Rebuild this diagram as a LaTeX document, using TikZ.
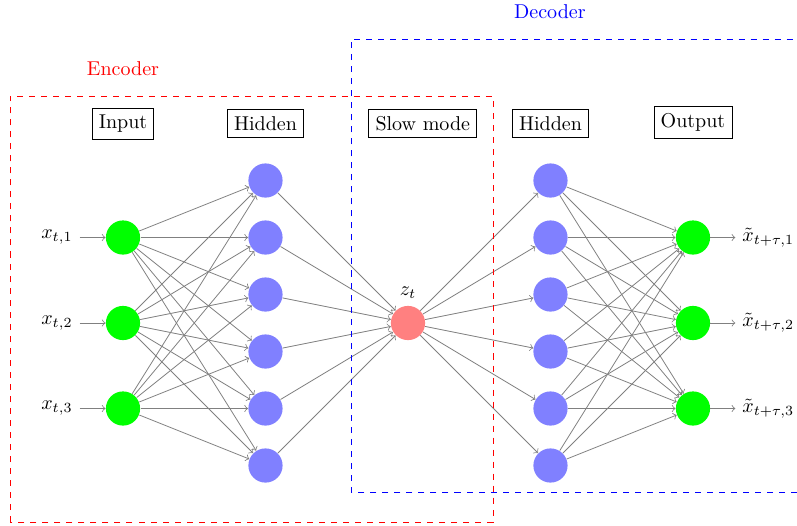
\documentclass[tikz,border=0pt]{standalone}
\usetikzlibrary{positioning}

\tikzset{
  neuron/.style={circle,minimum size=0.6cm,inner sep=0pt},
  inneuron/.style={neuron,fill=green},
  hidneuron/.style={neuron,fill=blue!50},
  slowneuron/.style={neuron,fill=red!50},
  outneuron/.style={neuron,fill=green},
  edge/.style={->,draw=gray},
  annot/.style={draw,text centered},
}

\begin{document}
\begin{tikzpicture}% [ show background grid ]
\useasboundingbox (-2.158,-3.544) rectangle (11.825,5.667);

% encoder
\foreach \y in {1,...,3}
{
  \node[inneuron] (I-\y) at (0,3-1.5*\y) {};
  \node (X-\y) at (-1.16,3-1.5*\y) {$x_{t,\y}$};
  \draw[edge] (X-\y) -- (I-\y);
}
\foreach \y in {1,...,6}
  \node[hidneuron] (H-\y) at (2.5,3.5-\y) {};

\node[slowneuron,label=above:$z_t$] (Z) at (5,0) {};

% decoder
\foreach \y in {1,...,6}
  \node[hidneuron] (D-\y) at (7.5,3.5-\y) {};
\foreach \y in {1,...,3}
{
  \node[outneuron] (O-\y) at (10,3-1.5*\y) {};
  \node (Y-\y) at (11.32,3-1.5*\y) {$\tilde{x}_{t+\tau,\y}$};
  \draw[edge] (O-\y) -- (Y-\y);
}

\foreach \s in {1,...,3}
  \foreach \d in {1,...,6}
    \draw[edge] (I-\s) -- (H-\d);
\foreach \s in {1,...,6}
  \draw[edge] (H-\s) -- (Z);
\foreach \d in {1,...,6}
  \draw[edge] (Z) -- (D-\d);
\foreach \s in {1,...,6}
  \foreach \d in {1,...,3}
    \draw[edge] (D-\s) -- (O-\d);

% headers
\node[annot] (inhead) at (0,3.5) {Input};
\node[annot] (hidhead) at (2.5,3.5) {Hidden};
\node[annot] (slowhead) at (5.26,3.5) {Slow mode};
\node[annot] (dechead) at (7.5,3.5) {Hidden};
\node[annot] (outhead) at (10,3.52) {Output};

% boxes
\draw[red,dashed] (-1.98,-3.49) rectangle (6.49,3.98);
\node[red] (enclabel) at (0,4.46) {Encoder};
\draw[blue,dashed] (4,-2.98) rectangle (12.5,4.98);
\node[blue] (declabel) at (7.49,5.47) {Decoder};
\end{tikzpicture}
\end{document}
